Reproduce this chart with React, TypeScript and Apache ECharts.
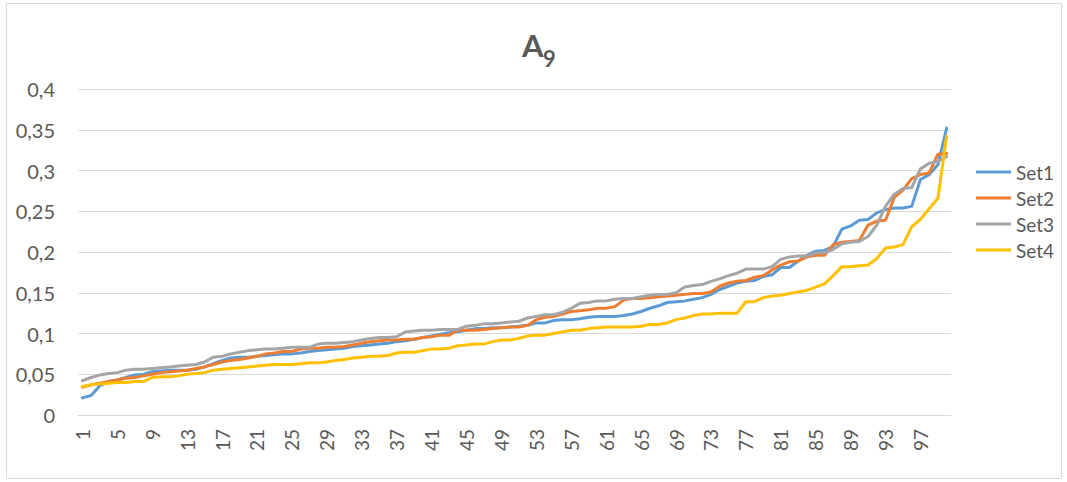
import React, { useEffect, useRef } from "react";
import * as echarts from "echarts";

const categories: string[] = Array.from({ length: 100 }, (_, i) => String(i + 1));

const seriesNames = ["Set1", "Set2", "Set3", "Set4"];

const titleMain = "A";
const titleSub = "9";

const set1 = [
  0.021, 0.024, 0.036, 0.041, 0.043, 0.046, 0.049, 0.050, 0.053, 0.054,
  0.055, 0.055, 0.055, 0.056, 0.059, 0.063, 0.067, 0.070, 0.071, 0.071,
  0.072, 0.073, 0.074, 0.075, 0.075, 0.076, 0.078, 0.079, 0.080, 0.081,
  0.082, 0.084, 0.085, 0.086, 0.087, 0.088, 0.090, 0.091, 0.093, 0.095,
  0.097, 0.099, 0.101, 0.102, 0.104, 0.106, 0.106, 0.107, 0.107, 0.108,
  0.109, 0.110, 0.113, 0.113, 0.116, 0.117, 0.117, 0.118, 0.120, 0.121,
  0.121, 0.121, 0.122, 0.124, 0.127, 0.131, 0.134, 0.138, 0.139, 0.140,
  0.142, 0.144, 0.148, 0.154, 0.158, 0.162, 0.164, 0.165, 0.170, 0.172,
  0.181, 0.181, 0.189, 0.196, 0.201, 0.202, 0.207, 0.228, 0.232, 0.239,
  0.240, 0.248, 0.252, 0.254, 0.254, 0.256, 0.289, 0.295, 0.307, 0.352,
];

const set2 = [
  0.034, 0.037, 0.039, 0.041, 0.043, 0.045, 0.046, 0.048, 0.050, 0.052,
  0.053, 0.054, 0.055, 0.057, 0.059, 0.062, 0.065, 0.067, 0.068, 0.070,
  0.072, 0.075, 0.076, 0.078, 0.078, 0.081, 0.082, 0.082, 0.083, 0.083,
  0.084, 0.086, 0.088, 0.090, 0.091, 0.092, 0.092, 0.093, 0.093, 0.095,
  0.096, 0.098, 0.098, 0.104, 0.104, 0.104, 0.105, 0.106, 0.107, 0.108,
  0.108, 0.110, 0.117, 0.120, 0.121, 0.124, 0.127, 0.128, 0.129, 0.131,
  0.131, 0.133, 0.141, 0.143, 0.143, 0.144, 0.145, 0.146, 0.147, 0.148,
  0.149, 0.149, 0.151, 0.158, 0.162, 0.164, 0.165, 0.169, 0.171, 0.178,
  0.184, 0.188, 0.189, 0.194, 0.196, 0.196, 0.209, 0.212, 0.213, 0.214,
  0.233, 0.238, 0.239, 0.267, 0.276, 0.290, 0.295, 0.297, 0.320, 0.321,
];

const set3 = [
  0.042, 0.046, 0.049, 0.051, 0.052, 0.055, 0.056, 0.056, 0.057, 0.058,
  0.059, 0.060, 0.061, 0.062, 0.065, 0.071, 0.072, 0.075, 0.077, 0.079,
  0.080, 0.081, 0.081, 0.082, 0.083, 0.083, 0.083, 0.087, 0.088, 0.088,
  0.089, 0.090, 0.092, 0.094, 0.095, 0.095, 0.096, 0.102, 0.103, 0.104,
  0.104, 0.105, 0.105, 0.105, 0.109, 0.110, 0.112, 0.112, 0.113, 0.114,
  0.115, 0.119, 0.121, 0.123, 0.123, 0.126, 0.131, 0.137, 0.138, 0.140,
  0.140, 0.142, 0.143, 0.143, 0.145, 0.147, 0.148, 0.148, 0.150, 0.157,
  0.159, 0.160, 0.164, 0.167, 0.171, 0.174, 0.179, 0.179, 0.179, 0.182,
  0.191, 0.194, 0.195, 0.195, 0.199, 0.199, 0.203, 0.210, 0.212, 0.213,
  0.219, 0.233, 0.256, 0.271, 0.278, 0.279, 0.302, 0.309, 0.311, 0.317,
];

const set4 = [
  0.035, 0.037, 0.038, 0.039, 0.040, 0.040, 0.041, 0.041, 0.046, 0.047,
  0.047, 0.048, 0.050, 0.051, 0.052, 0.055, 0.056, 0.057, 0.058, 0.059,
  0.060, 0.061, 0.062, 0.062, 0.062, 0.063, 0.064, 0.064, 0.065, 0.067,
  0.068, 0.070, 0.071, 0.072, 0.072, 0.073, 0.076, 0.077, 0.077, 0.079,
  0.081, 0.081, 0.082, 0.085, 0.086, 0.087, 0.087, 0.090, 0.092, 0.092,
  0.094, 0.097, 0.098, 0.098, 0.100, 0.102, 0.104, 0.104, 0.106, 0.107,
  0.108, 0.108, 0.108, 0.108, 0.109, 0.111, 0.111, 0.113, 0.117, 0.119,
  0.122, 0.124, 0.124, 0.125, 0.125, 0.125, 0.139, 0.139, 0.144, 0.146,
  0.147, 0.149, 0.151, 0.153, 0.157, 0.161, 0.171, 0.182, 0.182, 0.183,
  0.184, 0.192, 0.205, 0.206, 0.209, 0.231, 0.240, 0.253, 0.266, 0.342,
];

const colors = ["#5B9BD5", "#ED7D31", "#A5A5A5", "#FFC000"];
const FONT = "Lato";
const TEXT = "#595959";

export default function App() {
  const ref = useRef<HTMLDivElement>(null);

  useEffect(() => {
    if (!ref.current) return;
    const chart = echarts.init(ref.current, undefined, { renderer: "svg" });
    const data = [set1, set2, set3, set4];
    chart.setOption({
      animation: false,
      backgroundColor: "#ffffff",
      color: colors,
      textStyle: { fontFamily: FONT },
      graphic: [
        {
          type: "rect",
          shape: { x: 6.5, y: 3.5, width: 1055, height: 475 },
          style: { fill: "none", stroke: "#D9D9D9", lineWidth: 1 },
          silent: true,
        },
        {
          type: "text",
          x: 522,
          y: 45,
          style: {
            text: titleMain,
            fill: TEXT,
            fontSize: 31,
            fontWeight: "bold",
            fontStyle: "normal",
            fontFamily: FONT,
            align: "left",
            verticalAlign: "middle",
          },
        },
        {
          type: "text",
          x: 543,
          y: 58,
          style: {
            text: titleSub,
            fill: TEXT,
            fontSize: 22,
            fontWeight: "bold",
            fontStyle: "normal",
            fontFamily: FONT,
            align: "left",
            verticalAlign: "middle",
          },
        },
      ],
      legend: {
        orient: "vertical",
        left: 971,
        top: 157,
        icon: "rect",
        itemWidth: 35,
        itemHeight: 3,
        itemGap: 6,
        data: seriesNames,
        textStyle: { color: TEXT, fontSize: 19, lineHeight: 20, fontFamily: FONT },
      },
      grid: { left: 78, right: 116, top: 89, bottom: 67, containLabel: false },
      xAxis: {
        type: "category",
        data: categories,
        boundaryGap: true,
        axisLine: { show: true, lineStyle: { color: "#D9D9D9", width: 1 } },
        axisTick: { show: false },
        axisLabel: {
          interval: 3,
          rotate: 90,
          margin: 14,
          color: TEXT,
          fontSize: 19,
          fontFamily: FONT,
        },
        splitLine: { show: false },
      },
      yAxis: {
        type: "value",
        min: 0,
        max: 0.4,
        interval: 0.05,
        axisLine: { show: false },
        axisTick: { show: false },
        axisLabel: {
          margin: 23,
          color: TEXT,
          fontSize: 20,
          fontFamily: FONT,
          formatter: (v: number) => String(+v.toFixed(2)).replace(".", ","),
        },
        splitLine: { lineStyle: { color: "#D9D9D9", width: 1 } },
      },
      series: seriesNames.map((name, i) => ({
        name,
        type: "line",
        data: data[i],
        symbol: "none",
        lineStyle: { width: 3, color: colors[i], cap: "round", join: "round" },
        itemStyle: { color: colors[i] },
      })),
    });
    return () => chart.dispose();
  }, []);

  return (
    <div
      ref={ref}
      style={{ position: "fixed", left: 0, top: 0, width: 1067, height: 482, background: "#fff" }}
    />
  );
}
